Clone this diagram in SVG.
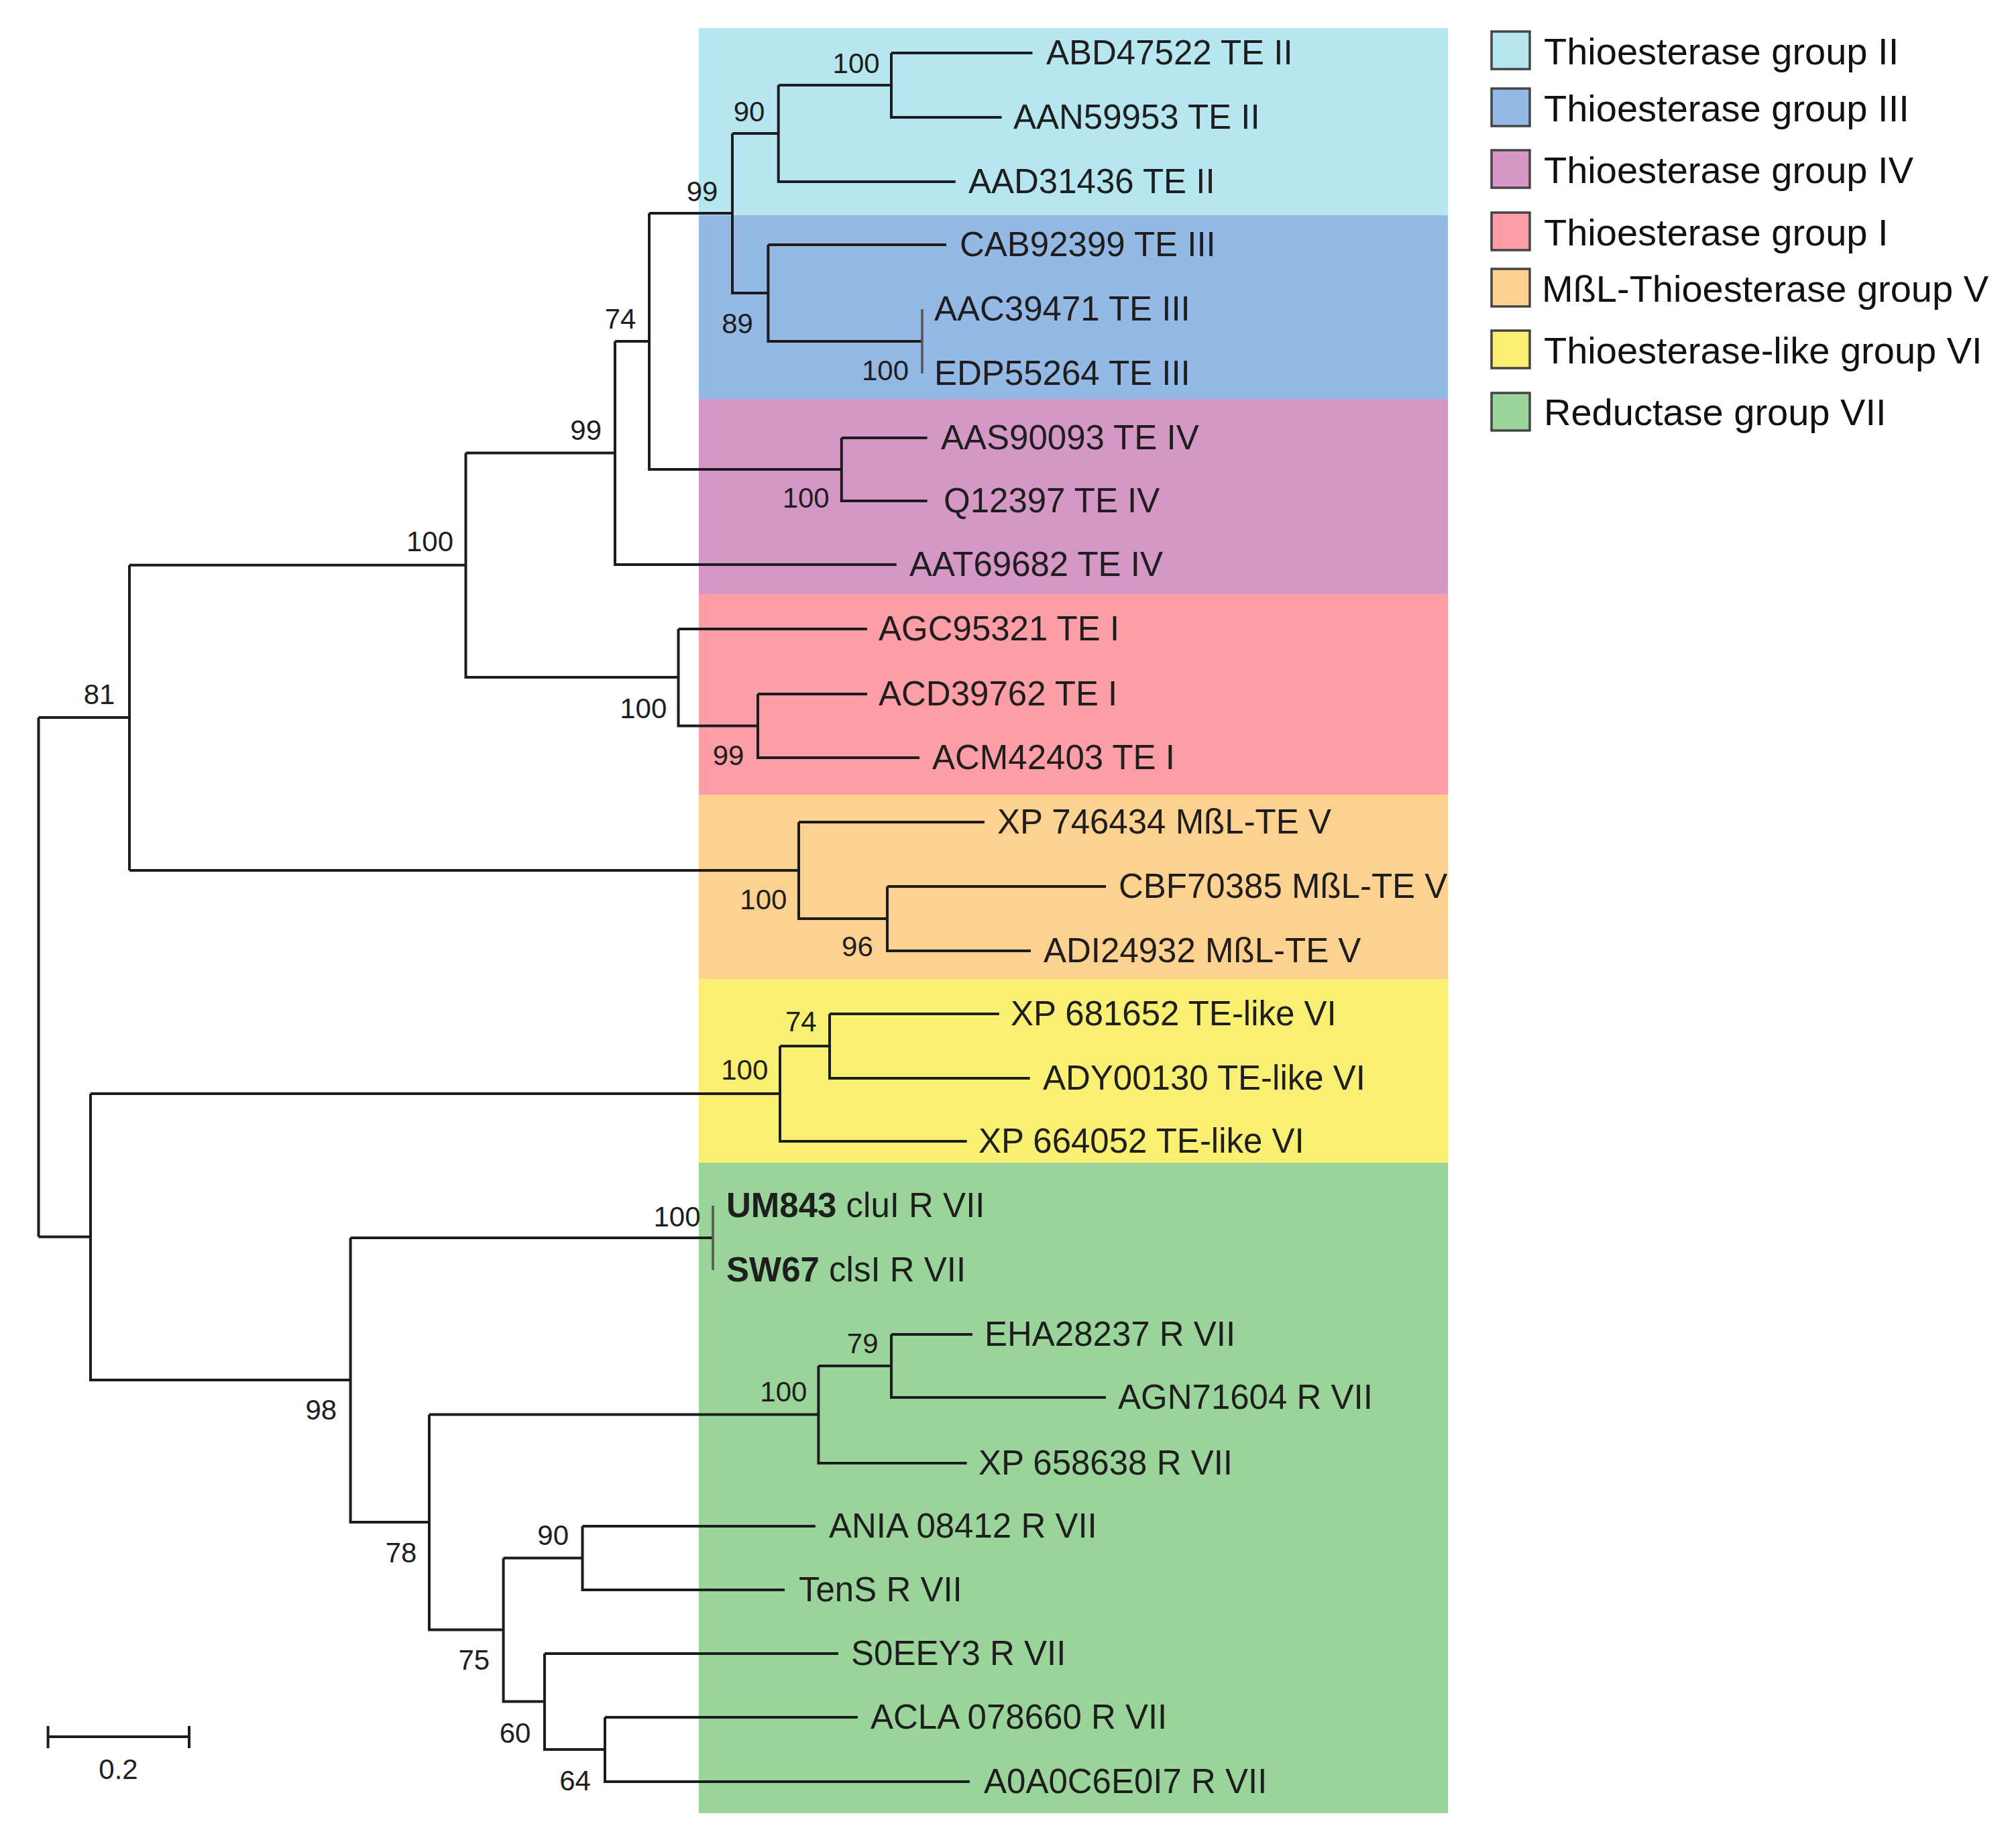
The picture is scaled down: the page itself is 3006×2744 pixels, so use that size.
<svg xmlns="http://www.w3.org/2000/svg" width="3006" height="2744" viewBox="0 0 3006 2744">
<style>
.br{fill:none;stroke:#1c1c1c;stroke-width:4;stroke-linejoin:miter}
.z{fill:none;stroke:#555;stroke-width:3.5}
.lf{font-family:"Liberation Sans",Arial,sans-serif;font-size:51px;fill:#1e1e1e}
.bs{font-family:"Liberation Sans",Arial,sans-serif;font-size:42px;fill:#1e1e1e;text-anchor:middle}
.lg{font-family:"Liberation Sans",Arial,sans-serif;font-size:56px;fill:#111}
.lb{stroke:#444;stroke-width:3.5}
.b{font-weight:bold}
</style>
<rect x="0" y="0" width="3006" height="2744" fill="#ffffff"/>
<g id="bands">
<rect x="1042" y="42" width="1117" height="279" fill="#b6e6ef"/>
<rect x="1042" y="321" width="1117" height="274" fill="#94b9e4"/>
<rect x="1042" y="595" width="1117" height="291" fill="#d598c6"/>
<rect x="1042" y="886" width="1117" height="299" fill="#fd9da5"/>
<rect x="1042" y="1185" width="1117" height="275" fill="#fdd18f"/>
<rect x="1042" y="1460" width="1117" height="274" fill="#f8ef73"/>
<rect x="1042" y="1734" width="1117" height="970" fill="#9bd49b"/>
</g>
<g id="connectors">
<path class="br" d="M57.5 1070 V1844.5 M57.5 1070 H193 M57.5 1844.5 H135"/>
<path class="br" d="M193 842.75 V1298 M193 842.75 H694.5 M193 1298 H1191"/>
<path class="br" d="M694.5 675.5 V1010 H1011.5 M694.5 675.5 H917"/>
<path class="br" d="M917 509 V842 H1336.7 M917 509 H968"/>
<path class="br" d="M968 318 V700 H1254.8 M968 318 H1092"/>
<path class="br" d="M1092 199 V437 H1145.4 M1092 199 H1160.7"/>
<path class="br" d="M1160.7 127 V271 H1424.7 M1160.7 127 H1329"/>
<path class="br" d="M1329 79 V175 H1493.6 M1329 79 H1539.5"/>
<path class="br" d="M1145.4 365 V509 H1375 M1145.4 365 H1411"/>
<path class="z" d="M1375 461 V557"/>
<path class="br" d="M1254.8 653 V747 H1382.6 M1254.8 653 H1382.6"/>
<path class="br" d="M1011.5 938 V1082.5 H1130 M1011.5 938 H1293"/>
<path class="br" d="M1130 1035 V1130 H1371 M1130 1035 H1293"/>
<path class="br" d="M1191 1226 V1370 H1323 M1191 1226 H1468"/>
<path class="br" d="M1323 1322 V1418 H1537 M1323 1322 H1649"/>
<path class="br" d="M135 1631 V2058 H522.6 M135 1631 H1163"/>
<path class="br" d="M1163 1560 V1702 H1441.6 M1163 1560 H1237"/>
<path class="br" d="M1237 1512 V1608 H1535.7 M1237 1512 H1489.8"/>
<path class="br" d="M522.6 1846 V2270 H640 M522.6 1846 H1063"/>
<path class="z" d="M1063 1798 V1894"/>
<path class="br" d="M640 2109.5 V2430.5 H750.6 M640 2109.5 H1220.4"/>
<path class="br" d="M1220.4 2037 V2182 H1441.6 M1220.4 2037 H1329"/>
<path class="br" d="M1329 1990 V2084 H1649 M1329 1990 H1450"/>
<path class="br" d="M750.6 2323.5 V2537.5 H812 M750.6 2323.5 H868.5"/>
<path class="br" d="M868.5 2276 V2371 H1170 M868.5 2276 H1215.8"/>
<path class="br" d="M812 2466 V2609 H902 M812 2466 H1250"/>
<path class="br" d="M902 2561 V2657 H1446 M902 2561 H1279"/>
</g>
<g id="leaves">
<g id="leaf-ABD47522"><text class="lf" x="1560" y="96">ABD47522 TE II</text></g>
<g id="leaf-AAN59953"><text class="lf" x="1511" y="192">AAN59953 TE II</text></g>
<g id="leaf-AAD31436"><text class="lf" x="1444" y="288">AAD31436 TE II</text></g>
<g id="leaf-CAB92399"><text class="lf" x="1431" y="382">CAB92399 TE III</text></g>
<g id="leaf-AAC39471"><text class="lf" x="1393" y="478">AAC39471 TE III</text></g>
<g id="leaf-EDP55264"><text class="lf" x="1393" y="574">EDP55264 TE III</text></g>
<g id="leaf-AAS90093"><text class="lf" x="1403" y="670">AAS90093 TE IV</text></g>
<g id="leaf-Q12397"><text class="lf" x="1407" y="764">Q12397 TE IV</text></g>
<g id="leaf-AAT69682"><text class="lf" x="1356" y="859">AAT69682 TE IV</text></g>
<g id="leaf-AGC95321"><text class="lf" x="1310" y="955">AGC95321 TE I</text></g>
<g id="leaf-ACD39762"><text class="lf" x="1310" y="1052">ACD39762 TE I</text></g>
<g id="leaf-ACM42403"><text class="lf" x="1390" y="1147">ACM42403 TE I</text></g>
<g id="leaf-XP746434"><text class="lf" x="1487" y="1243">XP 746434 MßL-TE V</text></g>
<g id="leaf-CBF70385"><text class="lf" x="1668" y="1339">CBF70385 MßL-TE V</text></g>
<g id="leaf-ADI24932"><text class="lf" x="1556" y="1435">ADI24932 MßL-TE V</text></g>
<g id="leaf-XP681652"><text class="lf" x="1507" y="1529">XP 681652 TE-like VI</text></g>
<g id="leaf-ADY00130"><text class="lf" x="1555" y="1625">ADY00130 TE-like VI</text></g>
<g id="leaf-XP664052"><text class="lf" x="1459" y="1719">XP 664052 TE-like VI</text></g>
<g id="leaf-UM843"><text class="lf" x="1083" y="1815"><tspan class="b">UM843</tspan> cluI R VII</text></g>
<g id="leaf-SW67"><text class="lf" x="1083" y="1911"><tspan class="b">SW67</tspan> clsI R VII</text></g>
<g id="leaf-EHA28237"><text class="lf" x="1468" y="2007">EHA28237 R VII</text></g>
<g id="leaf-AGN71604"><text class="lf" x="1667" y="2101">AGN71604 R VII</text></g>
<g id="leaf-XP658638"><text class="lf" x="1459" y="2199">XP 658638 R VII</text></g>
<g id="leaf-ANIA08412"><text class="lf" x="1236" y="2293">ANIA 08412 R VII</text></g>
<g id="leaf-TenS"><text class="lf" x="1191" y="2388">TenS R VII</text></g>
<g id="leaf-S0EEY3"><text class="lf" x="1269" y="2483">S0EEY3 R VII</text></g>
<g id="leaf-ACLA078660"><text class="lf" x="1298" y="2578">ACLA 078660 R VII</text></g>
<g id="leaf-A0A0C6E0I7"><text class="lf" x="1467" y="2674">A0A0C6E0I7 R VII</text></g>
</g>
<g id="bootstrap">
<g id="node-1"><text class="bs" x="1276.6" y="109">100</text></g>
<g id="node-2"><text class="bs" x="1117" y="180.5">90</text></g>
<g id="node-3"><text class="bs" x="1047" y="300">99</text></g>
<g id="node-4"><text class="bs" x="1099.5" y="497">89</text></g>
<g id="node-5"><text class="bs" x="1320" y="566.5">100</text></g>
<g id="node-6"><text class="bs" x="925" y="489.5">74</text></g>
<g id="node-7"><text class="bs" x="1201.7" y="757">100</text></g>
<g id="node-8"><text class="bs" x="873.7" y="656">99</text></g>
<g id="node-9"><text class="bs" x="641" y="822">100</text></g>
<g id="node-10"><text class="bs" x="959.3" y="1071">100</text></g>
<g id="node-11"><text class="bs" x="1086" y="1141">99</text></g>
<g id="node-12"><text class="bs" x="148" y="1050">81</text></g>
<g id="node-13"><text class="bs" x="1138.4" y="1356">100</text></g>
<g id="node-14"><text class="bs" x="1278.4" y="1426">96</text></g>
<g id="node-15"><text class="bs" x="1194.3" y="1538">74</text></g>
<g id="node-16"><text class="bs" x="1110.3" y="1610">100</text></g>
<g id="node-17"><text class="bs" x="1009.5" y="1829">100</text></g>
<g id="node-18"><text class="bs" x="478.8" y="2117">98</text></g>
<g id="node-19"><text class="bs" x="1286.2" y="2018">79</text></g>
<g id="node-20"><text class="bs" x="1168.4" y="2090">100</text></g>
<g id="node-21"><text class="bs" x="598" y="2330">78</text></g>
<g id="node-22"><text class="bs" x="824.7" y="2304">90</text></g>
<g id="node-23"><text class="bs" x="706.8" y="2490">75</text></g>
<g id="node-24"><text class="bs" x="768" y="2599">60</text></g>
<g id="node-25"><text class="bs" x="857.5" y="2670">64</text></g>
</g>
<g id="scale-bar">
<path class="br" d="M71.6 2590 H282 M71.6 2574 V2607 M282 2574 V2607"/>
<text class="bs" x="176.5" y="2653">0.2</text>
</g>
<g id="legend">
<g id="legend-II"><rect class="lb" x="2224" y="47" width="57" height="56" fill="#b6e6ef"/><text class="lg" x="2302" y="96">Thioesterase group II</text></g>
<g id="legend-III"><rect class="lb" x="2224" y="132" width="57" height="56" fill="#94b9e4"/><text class="lg" x="2302" y="181">Thioesterase group III</text></g>
<g id="legend-IV"><rect class="lb" x="2224" y="224" width="57" height="56" fill="#d598c6"/><text class="lg" x="2302" y="273">Thioesterase group IV</text></g>
<g id="legend-I"><rect class="lb" x="2224" y="317" width="57" height="56" fill="#fd9da5"/><text class="lg" x="2302" y="366">Thioesterase group I</text></g>
<g id="legend-V"><rect class="lb" x="2224" y="401" width="57" height="56" fill="#fdd18f"/><text class="lg" x="2299" y="450">MßL-Thioesterase group V</text></g>
<g id="legend-VI"><rect class="lb" x="2224" y="493" width="57" height="56" fill="#f8ef73"/><text class="lg" x="2302" y="542">Thioesterase-like group VI</text></g>
<g id="legend-VII"><rect class="lb" x="2224" y="586" width="57" height="56" fill="#9bd49b"/><text class="lg" x="2302" y="634">Reductase group VII</text></g>
</g>
</svg>
